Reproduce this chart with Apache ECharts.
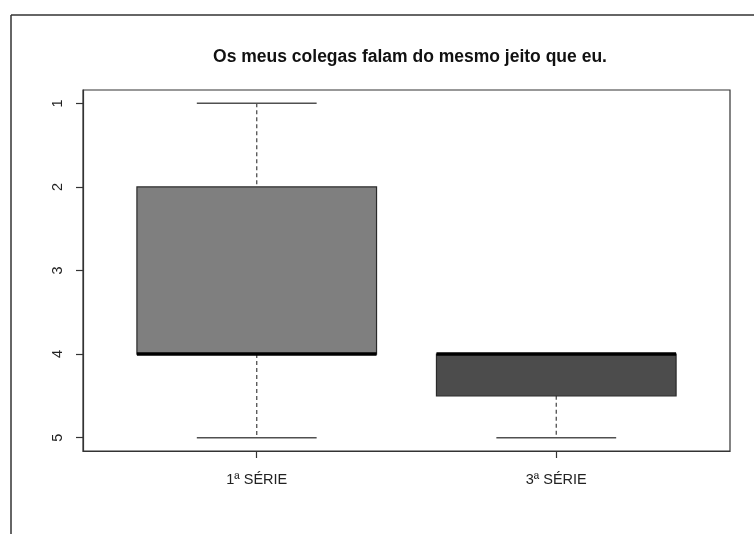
<!DOCTYPE html>
<html>
<head>
<meta charset="utf-8">
<script src="https://cdn.jsdelivr.net/npm/echarts@6/dist/echarts.min.js"></script>
<style>
html,body{margin:0;padding:0;background:#fff;}
#chart{width:754px;height:534px;}
</style>
</head>
<body>
<div id="chart"></div>
<script>
const title = 'Os meus colegas falam do mesmo jeito que eu.';
const categories = ['1ª SÉRIE', '3ª SÉRIE'];
const positions = [1, 2];
const whiskerLow = [1, 4];
const q1 = [2, 4];
const median = [4, 4];
const q3 = [4, 4.5];
const whiskerHigh = [5, 5];
const yTicks = [1, 2, 3, 4, 5];
const fills = ['#7f7f7f', '#4c4c4c'];

const data = positions.map((p, i) => [p, whiskerLow[i], q1[i], median[i], q3[i], whiskerHigh[i], i]);

const chart = echarts.init(document.getElementById('chart'), null, {renderer: 'canvas'});
const font = '"Liberation Sans", Arial, sans-serif';

function renderItem(params, api) {
  const x = api.value(0);
  const lo = api.value(1), a = api.value(2), m = api.value(3), b = api.value(4), hi = api.value(5);
  const idx = api.value(6);
  const boxW = api.size([0.8, 0])[0];
  const capW = api.size([0.4, 0])[0];
  const pLo = api.coord([x, lo]);
  const pA = api.coord([x, a]);
  const pM = api.coord([x, m]);
  const pB = api.coord([x, b]);
  const pHi = api.coord([x, hi]);
  const cx = pLo[0];
  const whiskerStyle = {stroke: '#505050', lineWidth: 1.3, lineDash: [4, 3]};
  const capStyle = {stroke: '#505050', lineWidth: 1.5};
  const children = [];
  if (lo !== a) {
    children.push({type: 'line', shape: {x1: cx, y1: pLo[1], x2: cx, y2: pA[1]}, style: whiskerStyle});
  }
  if (hi !== b) {
    children.push({type: 'line', shape: {x1: cx, y1: pB[1], x2: cx, y2: pHi[1]}, style: whiskerStyle});
  }
  children.push({type: 'line', shape: {x1: cx - capW / 2, y1: pLo[1], x2: cx + capW / 2, y2: pLo[1]}, style: capStyle});
  children.push({type: 'line', shape: {x1: cx - capW / 2, y1: pHi[1], x2: cx + capW / 2, y2: pHi[1]}, style: capStyle});
  const top = Math.min(pA[1], pB[1]);
  const h = Math.abs(pB[1] - pA[1]);
  children.push({type: 'rect', shape: {x: cx - boxW / 2, y: top, width: boxW, height: h},
    style: {fill: fills[idx], stroke: '#2a2a2a', lineWidth: 1.2}});
  children.push({type: 'line', shape: {x1: cx - boxW / 2, y1: pM[1], x2: cx + boxW / 2, y2: pM[1]},
    style: {stroke: '#000', lineWidth: 3.5}});
  return {type: 'group', children: children};
}

chart.setOption({
  animation: false,
  backgroundColor: '#fff',
  title: {
    text: title,
    left: 405, top: 43, textAlign: 'center',
    textStyle: {fontFamily: font, fontSize: 17.5, fontWeight: 'bold', color: '#111'}
  },
  grid: {left: 83, right: 24, top: 90, bottom: 83, show: true, borderColor: '#333', borderWidth: 1.2, backgroundColor: 'transparent'},
  xAxis: {
    type: 'value', min: 0.42, max: 2.58,
    splitLine: {show: false},
    axisLine: {show: true, lineStyle: {color: '#333', width: 1.2}},
    axisTick: {show: true, customValues: positions, length: 7, lineStyle: {color: '#333', width: 1.2}},
    axisLabel: {show: true, customValues: positions, margin: 21,
      formatter: v => categories[positions.indexOf(v)] || '',
      fontFamily: font, fontSize: 14.5, color: '#222'}
  },
  yAxis: {
    type: 'value', inverse: true, min: 0.84, max: 5.16,
    splitLine: {show: false},
    axisLine: {show: true, lineStyle: {color: '#333', width: 1.2}},
    axisTick: {show: true, customValues: yTicks, length: 7, lineStyle: {color: '#333', width: 1.2}},
    axisLabel: {show: true, customValues: yTicks, rotate: 90, margin: 18,
      fontFamily: font, fontSize: 14.5, color: '#222'}
  },
  graphic: [
    {type: 'line', shape: {x1: 11, y1: 15, x2: 754, y2: 15}, style: {stroke: '#333', lineWidth: 1.5}},
    {type: 'line', shape: {x1: 11, y1: 15, x2: 11, y2: 534}, style: {stroke: '#333', lineWidth: 1.5}}
  ],
  series: [{
    type: 'custom',
    renderItem: renderItem,
    encode: {x: 0, y: [1, 2, 3, 4, 5]},
    data: data
  }]
});
</script>
</body>
</html>
